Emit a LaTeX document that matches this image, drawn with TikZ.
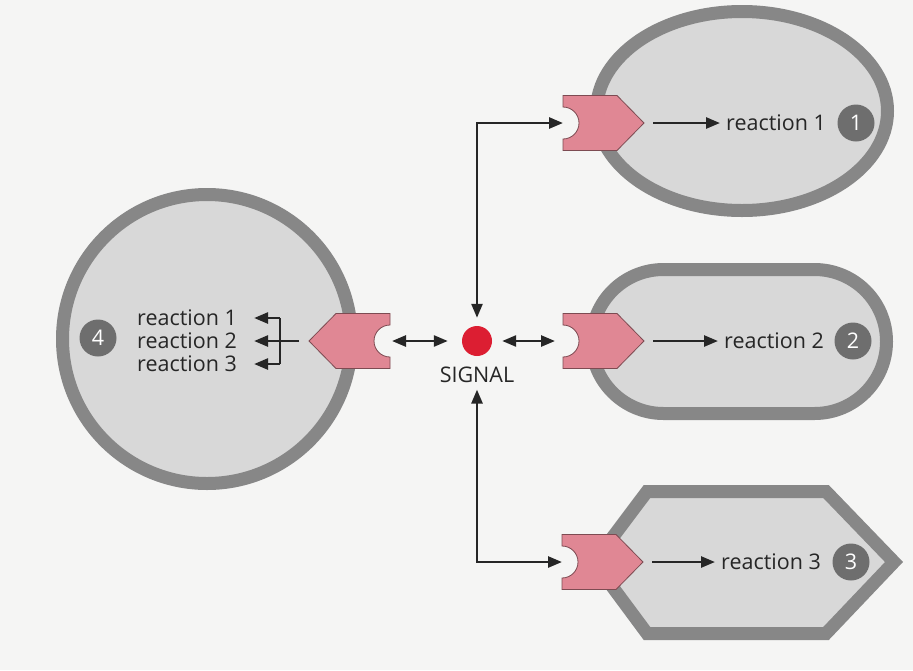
\documentclass[tikz,border=0pt]{standalone}
\usepackage{fontspec}
\setmainfont{Open Sans}
\usetikzlibrary{arrows.meta}
\definecolor{bg}{RGB}{245,245,244}
\definecolor{cellfill}{RGB}{216,216,216}
\definecolor{cellline}{RGB}{135,135,135}
\definecolor{pinkfill}{RGB}{224,135,148}
\definecolor{pinkline}{RGB}{125,75,82}
\definecolor{sigred}{RGB}{220,30,50}
\definecolor{ink}{RGB}{38,38,38}
\definecolor{badge}{RGB}{110,110,110}
\tikzset{
 cell/.style={draw=cellline, fill=cellfill, line width=13pt},
 conn/.style={draw=ink, line width=2.6pt, -{Triangle[length=14pt,width=11pt]}},
 dconn/.style={draw=ink, line width=2.6pt, {Triangle[length=14pt,width=11pt]}-{Triangle[length=14pt,width=11pt]}},
 plainconn/.style={draw=ink, line width=2.6pt},
 rtext/.style={text=ink, font=\fontsize{21.5}{24}\selectfont, inner sep=0pt, anchor=west},
 badgenode/.style={circle, fill=badge, minimum size=37pt, inner sep=0pt, text=white, font=\fontsize{21.5}{24}\selectfont},
 receptor/.pic={
   \path[fill=pinkfill, draw=pinkline, line width=0.8pt] (0,27.5) -- (54,27.5) -- (81,0) -- (54,-27.5) -- (0,-27.5) -- (0,-16) arc[start angle=-90,end angle=90,radius=16pt] -- cycle;
   \coordinate (-notch) at (0,0);
   \coordinate (-tip) at (81,0);
 }
}
\begin{document}
\begin{tikzpicture}[x=1pt,y=1pt]
\fill[bg] (0,0) rectangle (913,-670);
\useasboundingbox (0,0) rectangle (913,-670);

% cells
\draw[cell] (742,-111) ellipse [x radius=145.5pt, y radius=99.5pt];
\draw[cell, rounded corners=72pt] (591.5,-269.5) rectangle (886.5,-413.5);
\draw[cell, line join=miter] (647,-491.5) -- (826,-491.5) -- (894,-562) -- (826,-633.5) -- (647,-633.5) -- (594,-562) -- cycle;
\draw[cell] (207,-339) circle [radius=144.5pt];

% receptors
\pic (r1) at (563,-123) {receptor};
\pic (r2) at (563,-341) {receptor};
\pic (r3) at (562,-562) {receptor};
\pic[xscale=-1] (r4) at (390,-341) {receptor};

% signal
\node[circle, fill=sigred, minimum size=30pt, inner sep=0pt] (sig) at (477,-341) {};
\node[text=ink, font=\fontsize{21.5}{24}\selectfont, inner sep=1pt] (siglabel) at (477,-374.5) {SIGNAL};

% connectors from signal
\draw[dconn, shorten <=8pt] (sig) |- (r1-notch);
\draw[dconn, shorten <=6pt] (siglabel) |- (r3-notch);
\draw[dconn, shorten <=2pt, shorten >=14pt] (r4-notch) -- (sig);
\draw[dconn, shorten <=10pt, shorten >=8pt] (sig) -- (r2-notch);

% reactions in cells 1-3
\node[rtext] (t1) at (726,-123) {reaction 1};
\node[rtext] (t2) at (724,-341) {reaction 2};
\node[rtext] (t3) at (721,-562) {reaction 3};
\draw[conn, shorten <=9pt, shorten >=6pt] (r1-tip) -- (t1.west);
\draw[conn, shorten <=9pt, shorten >=6pt] (r2-tip) -- (t2.west);
\draw[conn, shorten <=9pt, shorten >=6pt] (r3-tip) -- (t3.west);
\node[badgenode] (b1) at (856,-123) {1};
\node[badgenode] (b2) at (853,-341) {2};
\node[badgenode] (b3) at (851,-562) {3};

% cell 4
\node[rtext] (l1) at (137,-318) {reaction 1};
\node[rtext] (l2) at (137,-341) {reaction 2};
\node[rtext] (l3) at (137,-364) {reaction 3};
\node[badgenode] (b4) at (98,-338) {4};
\coordinate (j1) at (280,-318);
\coordinate (j3) at (280,-364);
\draw[plainconn] (j1) -- (j3);
\draw[conn, shorten >=17pt] (j1) -- (l1.east);
\draw[conn, shorten >=17pt] (j3) -- (l3.east);
\draw[conn, shorten <=10pt, shorten >=17pt] (r4-tip) -- (l2.east);
\end{tikzpicture}
\end{document}
